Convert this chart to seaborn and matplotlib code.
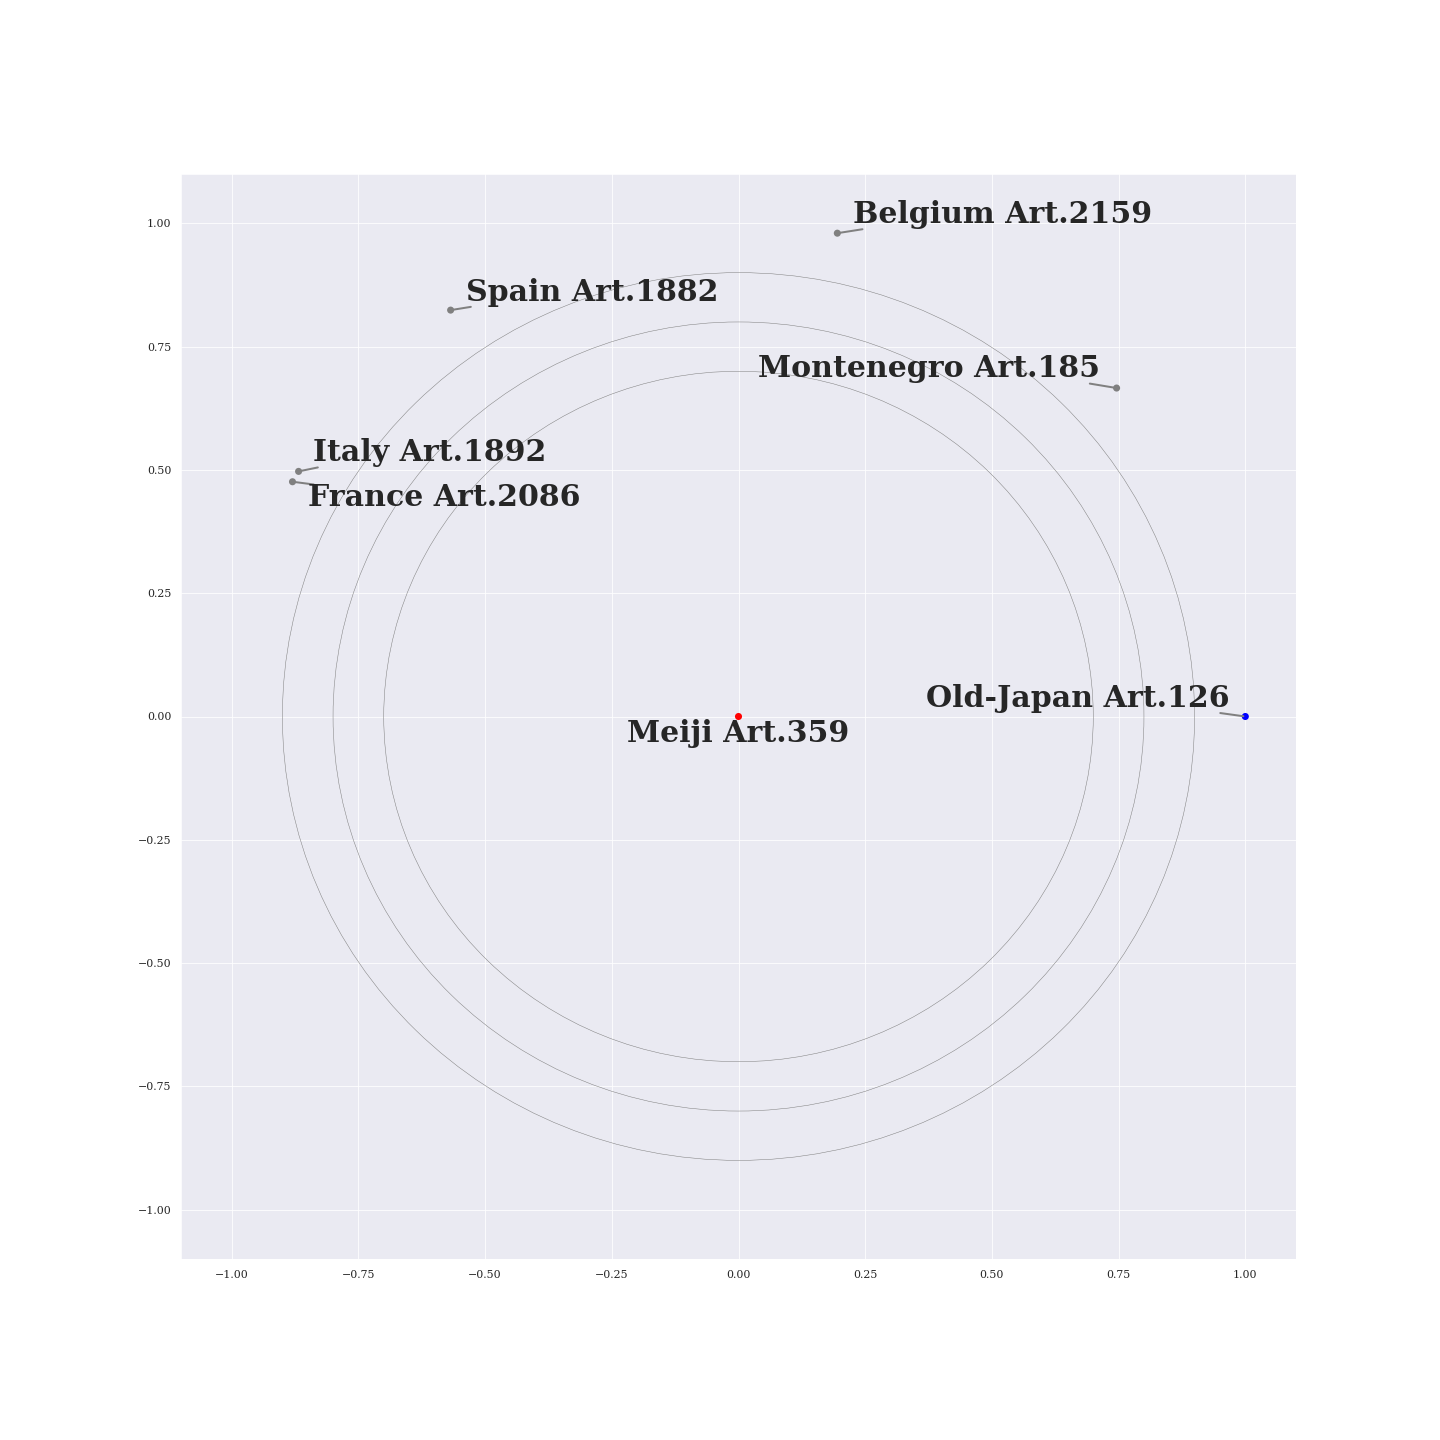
import numpy as np
import seaborn as sns
import matplotlib.pyplot as plt

# точки на единичной окружности
names = ['Meiji', 'Old-Japan', 'Belgium', 'Spain', 'Montenegro', 'Italy', 'France']
counts = [359, 126, 2159, 1882, 185, 1892, 2086]
xs = [0.0, 1.0, 0.195, -0.568, 0.746, -0.868, -0.880]
ys = [0.0, 0.0, 0.980, 0.824, 0.666, 0.497, 0.476]
colors = ['red', 'blue', 'gray', 'gray', 'gray', 'gray', 'gray']
# положения подписей и точка крепления линии
label_x = [-0.001, 0.669, 0.522, -0.289, 0.376, -0.609, -0.580]
label_y = [-0.035, 0.037, 1.018, 0.860, 0.705, 0.535, 0.444]
anchors = [None, (0.97, -0.01), (0.03, -0.01), (0.02, 0.0), (0.97, -0.01),
           (0.02, -0.01), (0.02, 0.95)]
radii = [0.7, 0.8, 0.9]

sns.set_style('darkgrid')
plt.rcParams['font.family'] = ['DejaVu Serif']

fig = plt.figure(figsize=(20, 20), dpi=72)
ax = fig.add_axes([181 / 1440, 1 - 1259 / 1440, 1115 / 1440, 1085 / 1440])

sns.scatterplot(x=xs, y=ys, hue=names, palette=dict(zip(names, colors)),
                s=50, linewidth=0, legend=False, ax=ax, zorder=3)

for r in radii:
    ax.add_patch(plt.Circle((0, 0), r, fill=False, color='gray', lw=0.5))

for i, name in enumerate(names):
    label = f'{name} Art.{counts[i]}'
    if anchors[i] is None:
        ax.text(label_x[i], label_y[i], label, ha='center', va='center',
                fontsize=30, fontweight='bold', color='#262626')
    else:
        ax.annotate(label, xy=(xs[i], ys[i]), xytext=(label_x[i], label_y[i]),
                    ha='center', va='center', fontsize=30, fontweight='bold',
                    color='#262626',
                    arrowprops=dict(arrowstyle='-', color='gray', lw=2,
                                    patchA=None, shrinkA=0, shrinkB=2,
                                    relpos=anchors[i]))

ax.set_xlim(-1.1, 1.1)
ax.set_ylim(-1.1, 1.1)
ax.set_xticks(np.arange(-1, 1.01, 0.25))
ax.set_yticks(np.arange(-1, 1.01, 0.25))
ax.tick_params(labelsize=11)
ax.tick_params(axis='x', pad=8)
ax.tick_params(axis='y', pad=6)

plt.savefig('out.png', dpi=72)
